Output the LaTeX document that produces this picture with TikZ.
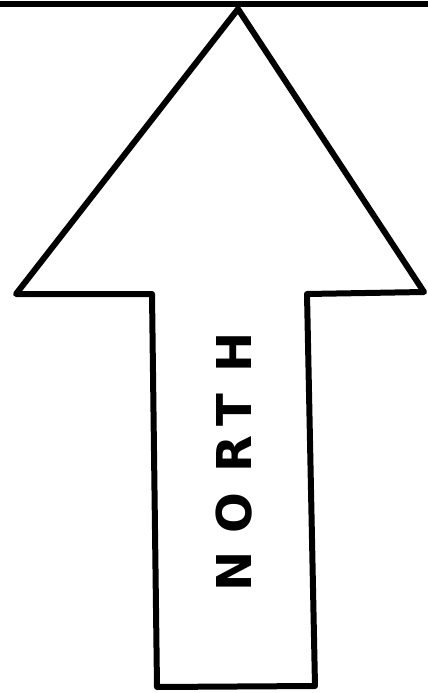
\documentclass[tikz,border=0pt]{standalone}
\usepackage{fontspec}
\setmainfont{DejaVu Sans}
\begin{document}
\begin{tikzpicture}[x=1pt,y=-1pt,
  inkline/.style={line width=6pt,line join=round,line cap=round,black},
  letter/.style={rotate=90,inner sep=0pt,font=\bfseries\fontsize{48}{48}\selectfont}]
\useasboundingbox (0,0) rectangle (428,693);
\fill[white] (0,0) rectangle (428,693);
% top rule
\coordinate (tl) at (0,4);
\coordinate (tr) at (428,4);
\draw[line width=6pt] (tl) -- (tr);
% arrow outline
\coordinate (tip) at (238,9);
\coordinate (hr) at (424,292);
\coordinate (sr) at (307,294);
\coordinate (br) at (315,686);
\coordinate (bl) at (157,687);
\coordinate (sl) at (152,294);
\coordinate (hl) at (16,294);
\draw[inkline] (tip) -- (hr) -- (sr) -- (br) -- (bl) -- (sl) -- (hl) -- cycle;
% text
\node[letter] (lH) at (234,352) {H};
\node[letter] (lT) at (234,410) {T};
\node[letter] (lR) at (234,454) {R};
\node[letter] (lO) at (234,513) {O};
\node[letter] (lN) at (234,571) {N};
\end{tikzpicture}
\end{document}
